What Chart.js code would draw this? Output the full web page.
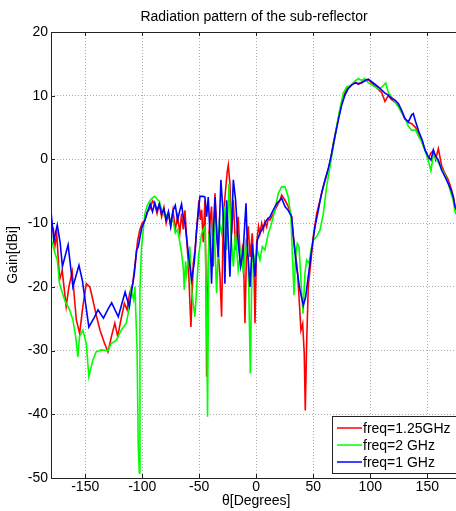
<!DOCTYPE html>
<html lang="en">
<head>
  <meta charset="UTF-8">
  <title>Radiation pattern of the sub-reflector</title>
  <script src="https://cdn.jsdelivr.net/npm/chart.js"></script>
  <style>
    html, body { margin: 0; padding: 0; background: #fff; overflow: hidden; }
  </style>
</head>
<body>
  <canvas id="chart" width="470" height="511"></canvas>

  <script>
    // readings
    const redTheta = [-180,-178,-176.5,-175,-172.5,-170.2,-166.7,-164.3,-161.4,-157.8,-154.9,-152,-149,-146,-144.6,-140,-137,-133,-130,-127,-124,-121.5,-118.5,-115.6,-113.3,-111,-108.3,-106,-104,-102,-100,-97.6,-95.5,-93,-91,-89,-87,-85,-83,-81,-79,-77,-75,-73,-71,-69,-67,-65.5,-64,-62.5,-61,-59.6,-57.3,-55.2,-53.5,-52.3,-50.3,-49,-47.9,-46.5,-45,-44,-43.5,-42.5,-41.5,-39.2,-37.7,-36.2,-33.9,-31.8,-30.4,-28.9,-26.9,-25.5,-24.5,-23.1,-21.6,-20.1,-18.1,-15.8,-13.7,-11.4,-9.9,-8.5,-7,-5.5,-3.5,-2,-1.1,0.3,2,3.2,4.8,6.2,7.5,9.1,10.5,12,15,17.9,20.8,22.3,25.2,28.1,31,32.5,34.5,36.3,38,39.2,40.7,42.1,43,44.2,45.6,48,50,53,55.9,58.8,61.7,64.6,67.6,70.5,73.4,76.3,79.3,83.7,86.6,89.5,92.4,95.3,98.3,101.2,104.1,107,110,112.9,115.8,118.7,121.7,124.6,127.5,130.4,133.4,136.3,139.8,142.7,145.6,148,150.9,153.2,155.3,157.3,159.7,162.6,165.5,168.4,170.8,172.8,174.3,176];
    const redGain = [-10.5,-10.8,-13.5,-11.6,-18.9,-17.4,-23.1,-20,-17.6,-25.2,-27.3,-23,-19.5,-20,-21,-24.7,-26.8,-28.9,-30.2,-27.8,-25.7,-27.8,-25,-22.6,-23.6,-21,-19.5,-16,-12.7,-11,-10,-9.5,-8.2,-7.7,-6.5,-7,-8.5,-7,-9,-7.5,-10,-8.5,-10.5,-8,-11,-9,-11.5,-8.5,-11,-8,-12.5,-16.3,-26.3,-16.3,-14,-11.1,-6.4,-9.5,-7.9,-13,-6.4,-20,-34.1,-22,-11.6,-7.4,-16.8,-5.3,-13.2,-18.4,-24.7,-9,-4.8,-2,-0.9,-3.8,-11.6,-6.4,-14.2,-9,-16.8,-13.2,-25.7,-14.2,-10.5,-15.3,-11.6,-17,-25.7,-13.2,-10.5,-11.6,-10,-11.1,-9.8,-10.6,-9.3,-9.5,-8.5,-7.4,-6.4,-5.6,-6.4,-7.4,-9,-12.1,-14.8,-17.9,-23.1,-26.8,-25.8,-30.5,-39.4,-28.9,-20,-15.8,-12.1,-8.5,-6.4,-4.3,-2.5,-0.6,2.5,5.1,7.7,9.8,11.1,11.7,12.2,11.8,12.1,12.3,12.5,12.0,11.6,11.0,10.5,9.1,10.0,9.4,9.0,8.4,7.4,6.3,5.8,5.6,5.0,3.8,2.6,1.5,0.2,1.0,1.4,0.0,1.7,-1.0,-2.2,-3.2,-4.5,-5.8,-7.5,-8.2];

    const greenTheta = [-180,-179.5,-176.6,-174.5,-172.5,-168,-163.7,-160.8,-158.4,-156.4,-155,-152,-149,-146.8,-143.3,-140.4,-136,-130,-127.2,-122.8,-118.4,-114,-111,-109.7,-107.6,-106.4,-104.5,-103.5,-102.5,-102,-100.6,-97.6,-95.5,-93,-91,-89,-87,-85,-82,-80,-77,-75,-73,-71,-69,-67,-65.5,-64,-63.1,-62,-61,-58.2,-56.7,-53.8,-50.5,-47.9,-45,-43.5,-42.7,-41.5,-39.2,-37.1,-34.8,-32.4,-30.4,-28,-26,-23.9,-22.2,-20.1,-18.1,-15.8,-13.4,-11.4,-9.3,-7,-5.2,-3.5,-1.1,0.9,3.2,5.3,7.6,10.6,13.5,16.4,19.3,22.3,25.2,28.1,30.4,31.9,33.1,34.5,36,37.5,39.2,41,42.7,44.2,46.2,48,50,53,55.9,58.8,61.7,64.6,67.6,70.5,73.4,76.3,79.3,83.7,86.6,89.5,92.4,95.3,98.3,101.2,104.1,107,110,113.5,115.8,118.7,121.7,124.6,127.5,130.4,133.4,136.3,139.8,142.7,145.6,148,150.9,153.2,155.3,157.3,159.7,162.6,165.5,168.4,170.8,172.8,174.3,176];
    const greenGain = [-12,-12.7,-14.7,-15.8,-19.5,-22.1,-23.6,-25.2,-27.8,-31,-27.8,-26.8,-29,-34.1,-31.5,-30.2,-29.9,-30,-28.9,-28.4,-26.8,-25.7,-23,-20.5,-22,-20,-30,-45,-49.2,-20.5,-13.7,-8.5,-7.2,-6.4,-6,-5.8,-6.2,-6.6,-8.4,-9,-8.5,-10,-9.5,-11.5,-11,-13,-14.7,-17,-20.5,-16,-18,-13.7,-20.5,-24.7,-15,-11.6,-10.6,-24.7,-40.4,-11.6,-15.8,-9,-21,-10,-11.6,-7.4,-14.2,-3.8,-11.6,-16.8,-11.6,-17.4,-14.2,-17.9,-13.2,-15.8,-33.6,-13.2,-16.8,-14.2,-15.8,-13.7,-14.2,-11.6,-10,-7.9,-5.3,-4.3,-4.3,-5.9,-9,-15.8,-21.3,-15.3,-13.2,-13.7,-19,-24.2,-17.9,-15.8,-16.3,-14.2,-12.7,-12.1,-11.1,-8.5,-4.3,-1.2,2,5.1,8,10.4,11.4,11.7,12.3,12.7,12.4,12.7,12.0,11.7,11.4,11.0,11.3,12.0,10.5,9.8,9.0,8.2,7.4,6.5,5.2,4.6,4.6,3.5,2.6,1.4,-0.2,-1.8,0.8,0.2,-0.5,-1.5,-2.4,-3.8,-5.3,-6.5,-8.2,-8.8];

    const blueTheta = [-180,-177.5,-174.5,-172,-170,-165,-160.8,-155.5,-152.5,-146.8,-142,-138.8,-134,-130,-126.8,-121,-115,-111.4,-107,-104.9,-103.5,-100.5,-97.6,-95,-93,-91,-89,-87,-85,-83,-81,-79,-77,-75,-73,-71,-69,-67,-65.5,-64,-62.5,-59.6,-56.7,-54.4,-52.3,-49.4,-46.4,-45,-43.5,-42.1,-40.6,-39.2,-37.7,-36.2,-34.8,-33.3,-31,-28.9,-27.5,-26,-23.1,-20.1,-18.1,-15.8,-13.7,-11.4,-9,-7.6,-5.5,-3.5,-1.1,0.9,3.2,6.2,9.1,12,15,17.9,20.8,22.3,25.2,28.1,31,33.4,35.4,38.3,41.3,43.3,45.6,48.6,51.5,54.4,57.3,60.3,63.2,66.1,69,72,74.9,77.8,80.7,83.7,86.6,89.5,92.4,95.3,98.3,101.2,104.1,107,110,112.9,115.8,118.7,121.7,124.6,127.5,130.4,133.4,136.3,137.7,139.8,142.7,145.6,148,150.9,153.2,155.3,157.3,159.7,162.6,165.5,168.4,170.8,172.8,174.3,176];
    const blueGain = [-8.2,-12.7,-10.3,-13,-16.8,-13.4,-20,-16.6,-19,-26.3,-24.8,-23.6,-24.9,-23.5,-22.5,-24.7,-20.8,-23.1,-18,-14.2,-13.7,-10.8,-9.5,-8,-7,-8.2,-6.8,-8,-7,-8.5,-7.8,-9.5,-8.2,-10.5,-8,-7.2,-9.5,-8,-7,-9,-10,-14.7,-18.9,-16.3,-11,-5.8,-5.8,-5.9,-9,-5.9,-11.6,-19.5,-11.6,-5.9,-11.6,-15.3,-3.2,-9,-19.5,-6.4,-18.4,-3.2,-6.4,-13.2,-16.8,-14.2,-6.9,-14.2,-20,-13.2,-18.4,-12.7,-11.6,-10.6,-9.5,-9,-7.9,-6.9,-6.4,-6.1,-7.4,-8,-9,-13.7,-16.9,-20.5,-22.9,-21.6,-18.4,-14.2,-10.6,-8,-5.3,-3.2,-1.4,0.9,3.6,6.2,8.5,10.1,11.1,11.7,12,11.9,12,12.4,12.6,12.2,11.8,11.4,10.9,10.4,10.1,9.6,9.3,8.8,7.7,6.4,5.9,7.0,7.2,5.9,4.3,3.0,1.5,0.4,-0.1,1.5,0.5,-0.1,-1.7,-2.7,-3.8,-4.8,-5.9,-7.4,-8.0];

    const seriesLabels = ['freq=1.25GHz', 'freq=2 GHz', 'freq=1 GHz'];
    const seriesColors = ['#ff0000', '#00ff00', '#0000ff'];
    const xTicks = [-150, -100, -50, 0, 50, 100, 150];
    const yTicks = [-50, -40, -30, -20, -10, 0, 10, 20];

    function pts(t, g) { return t.map((v, i) => ({ x: v, y: g[i] })); }

    Chart.defaults.font.family = '"Liberation Sans", Arial, sans-serif';
    Chart.defaults.font.size = 14;
    Chart.defaults.color = '#000';

    // box, inward ticks, title and legend like the matlab figure
    const matlabLook = {
      id: 'matlabLook',
      afterDraw(chart) {
        const ctx = chart.ctx;
        const a = chart.chartArea;
        const xs = chart.scales.x, ys = chart.scales.y;
        ctx.save();
        ctx.strokeStyle = '#222';
        ctx.lineWidth = 1;
        ctx.strokeRect(Math.round(a.left) + 0.5, Math.round(a.top) + 0.5, Math.round(a.right - a.left), Math.round(a.bottom - a.top));
        ctx.beginPath();
        xTicks.forEach(v => {
          const px = Math.round(xs.getPixelForValue(v)) + 0.5;
          ctx.moveTo(px, a.bottom); ctx.lineTo(px, a.bottom - 4);
          ctx.moveTo(px, a.top); ctx.lineTo(px, a.top + 4);
        });
        yTicks.forEach(v => {
          const py = Math.round(ys.getPixelForValue(v)) + 0.5;
          ctx.moveTo(a.left, py); ctx.lineTo(a.left + 4, py);
          ctx.moveTo(a.right, py); ctx.lineTo(a.right - 4, py);
        });
        ctx.stroke();

        // title
        ctx.fillStyle = '#000';
        ctx.font = '14px "Liberation Sans", Arial, sans-serif';
        ctx.textAlign = 'center';
        ctx.textBaseline = 'alphabetic';
        ctx.fillText('Radiation pattern of the sub-reflector', 254, 21);

        // legend
        const lx = 332.5, ly = 416.5, lw = 126, lh = 57;
        ctx.fillStyle = '#fff';
        ctx.fillRect(lx, ly, lw, lh);
        ctx.strokeStyle = '#222';
        ctx.strokeRect(lx, ly, lw, lh);
        ctx.textAlign = 'left';
        ctx.textBaseline = 'middle';
        seriesLabels.forEach((lab, i) => {
          const y = 428 + i * 17;
          ctx.strokeStyle = seriesColors[i];
          ctx.lineWidth = 1.5;
          ctx.beginPath();
          ctx.moveTo(337, y); ctx.lineTo(362, y);
          ctx.stroke();
          ctx.fillStyle = '#000';
          ctx.fillText(lab, 363, y + 1);
        });
        ctx.restore();
      }
    };

    const gridStyle = {
      color: '#adadad',
      lineWidth: 1,
      drawTicks: false
    };

    new Chart(document.getElementById('chart').getContext('2d'), {
      type: 'line',
      data: {
        datasets: [
          { label: seriesLabels[0], data: pts(redTheta, redGain), borderColor: seriesColors[0], order: 3 },
          { label: seriesLabels[1], data: pts(greenTheta, greenGain), borderColor: seriesColors[1], order: 2 },
          { label: seriesLabels[2], data: pts(blueTheta, blueGain), borderColor: seriesColors[2], order: 1 }
        ]
      },
      options: {
        responsive: false,
        animation: false,
        parsing: false,
        elements: {
          line: { borderWidth: 1.6, tension: 0 },
          point: { radius: 0 }
        },
        layout: { padding: { top: 32, right: 8.5, left: 0, bottom: 0 } },
        plugins: {
          legend: { display: false },
          tooltip: { enabled: false },
          title: { display: false }
        },
        scales: {
          x: {
            type: 'linear',
            min: -180,
            max: 180,
            afterBuildTicks: s => { s.ticks = xTicks.map(v => ({ value: v })); },
            afterFit: s => { s.height = 33; },
            ticks: { padding: 1, maxRotation: 0, color: '#000' },
            grid: gridStyle,
            border: { display: false, dash: [1, 2] },
            title: { display: true, text: 'θ[Degrees]', padding: { top: 0, bottom: 1 }, color: '#000' }
          },
          y: {
            type: 'linear',
            min: -50,
            max: 20,
            afterBuildTicks: s => { s.ticks = yTicks.map(v => ({ value: v })); },
            afterFit: s => { s.width = 51; },
            ticks: { padding: 3, color: '#000' },
            grid: gridStyle,
            border: { display: false, dash: [1, 2] },
            title: { display: true, text: 'Gain[dBi]', padding: { top: 5, bottom: 0 }, color: '#000' }
          }
        }
      },
      plugins: [matlabLook]
    });
  </script>
</body>
</html>
